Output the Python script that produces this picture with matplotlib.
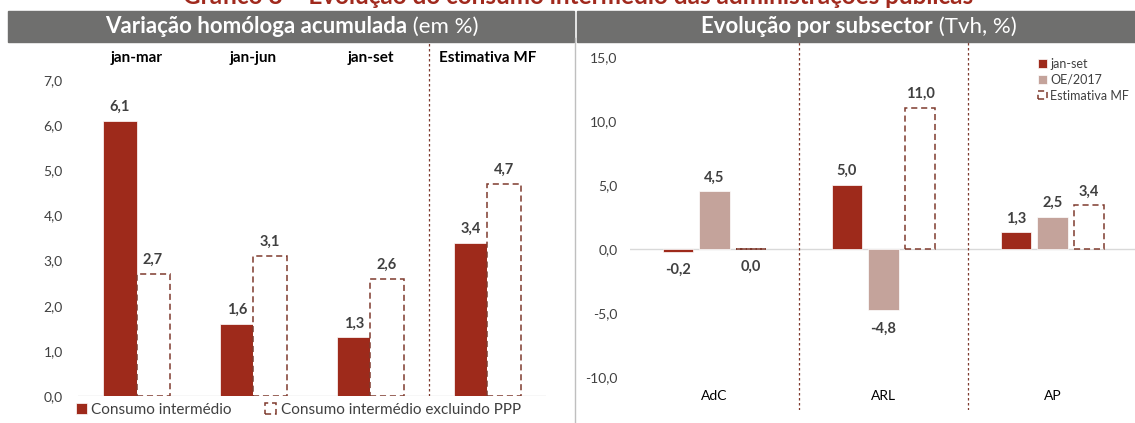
import matplotlib.pyplot as plt
from matplotlib.patches import Rectangle
from matplotlib.lines import Line2D
import numpy as np

plt.rcParams['font.family'] = ['Lato', 'DejaVu Sans']

# left panel data
periods = ['jan-mar', 'jan-jun', 'jan-set', 'Estimativa MF']
consumo = [6.1, 1.6, 1.3, 3.4]
consumo_sem_ppp = [2.7, 3.1, 2.6, 4.7]

# right panel data
subsectores = ['AdC', 'ARL', 'AP']
jan_set = [-0.2, 5.0, 1.3]
oe_2017 = [4.5, -4.8, 2.5]
estimativa_mf = [0.0, 11.0, 3.4]

RED = '#9E2A1B'
PINK = '#C4A39B'
DASH = '#7F3A2E'
HEADER = '#6F6F6E'
TXT = '#404040'

W, H = 1135, 423
fig = plt.figure(figsize=(W / 100, H / 100), dpi=100)


def px_axes(x0, x1, ytop, ybot):
    return fig.add_axes([x0 / W, 1 - ybot / H, (x1 - x0) / W, (ybot - ytop) / H])


def fmt(v):
    return f'{v:.1f}'.replace('.', ',')


def label_bars(ax, bars, vals):
    for b, v in zip(bars, vals):
        x = b.get_x() + b.get_width() / 2
        if v > 0:
            ax.annotate(fmt(v), (x, v), xytext=(0, 5), textcoords='offset points',
                        ha='center', va='bottom', fontsize=10.5, fontweight='bold', color=TXT)
        else:
            ax.annotate(fmt(v), (x, v), xytext=(0, -8), textcoords='offset points',
                        ha='center', va='top', fontsize=10.5, fontweight='bold', color=TXT)


def style(ax):
    for s in ax.spines.values():
        s.set_visible(False)
    ax.tick_params(length=0, labelsize=10, labelcolor=TXT)
    ax.set_xticks([])
    ax.axhline(0, color='#D9D9D9', lw=1, zorder=1)


# ---- left panel ----
ax1 = px_axes(78, 546, 40, 396)
x = np.arange(len(periods))
w = 0.283
b1 = ax1.bar(x - w / 2, consumo, w, color=RED, edgecolor='white', lw=0.5, zorder=2,
             label='Consumo intermédio')
b2 = ax1.bar(x + w / 2, consumo_sem_ppp, w, facecolor='white', edgecolor=DASH, lw=1.1,
             linestyle=(0, (4, 2.5)), zorder=2, label='Consumo intermédio excluindo PPP')
label_bars(ax1, b1, consumo)
label_bars(ax1, b2, consumo_sem_ppp)
ax1.set_xlim(-0.5, 3.5)
ax1.set_ylim(0, 356 / 45.14)
ax1.set_yticks(np.arange(0, 8))
ax1.set_yticklabels([fmt(v) for v in np.arange(0, 8)])
style(ax1)
ax1.tick_params(axis='y', pad=11)
ax1.axvline(2.5, ymin=0, ymax=1, color=DASH, lw=0.9, linestyle=(0, (2, 2)))
for i, p in enumerate(periods):
    ax1.text(i, 338 / 45.14, p, ha='center', va='center', fontsize=11,
             fontweight='bold', color='black')
ax1.legend(loc='center left', bbox_to_anchor=(76 / W, 1 - 410 / H), bbox_transform=fig.transFigure,
           ncol=2, frameon=False, fontsize=11, labelcolor=TXT, handlelength=0.7,
           handleheight=0.7, handletextpad=0.3, columnspacing=2.2, borderaxespad=0, borderpad=0)

# ---- right panel ----
ax2 = px_axes(630, 1135, 42, 410)
x2 = np.arange(len(subsectores))
w2 = 0.178
off = 0.216
c1 = ax2.bar(x2 - off, jan_set, w2, color=RED, edgecolor='white', lw=0.5, zorder=2, label='jan-set')
c2 = ax2.bar(x2, oe_2017, w2, color=PINK, edgecolor='white', lw=0.5, zorder=2, label='OE/2017')
c3 = ax2.bar(x2 + off, estimativa_mf, w2, facecolor='white', edgecolor=DASH, lw=1.1,
             linestyle=(0, (4, 2.5)), zorder=2, label='Estimativa MF')
label_bars(ax2, c1, jan_set)
label_bars(ax2, c2, oe_2017)
label_bars(ax2, c3, estimativa_mf)
ax2.set_xlim(-0.5, -0.5 + 505 / 169)
ax2.set_ylim(-161 / 12.8, 207 / 12.8)
ax2.set_yticks(np.arange(-10, 16, 5))
ax2.set_yticklabels([fmt(v) for v in np.arange(-10, 16, 5)])
style(ax2)
ax2.tick_params(axis='y', pad=9)
for s in [0.5, 1.5]:
    ax2.axvline(s, color=DASH, lw=0.9, linestyle=(0, (2, 2)))
for i, s in enumerate(subsectores):
    ax2.text(i, -147 / 12.8, s, ha='center', va='center', fontsize=10, color='black')
ax2.legend(loc='upper left', bbox_to_anchor=(1038 / W, 1 - 58 / H), bbox_transform=fig.transFigure,
           frameon=False, fontsize=9, labelcolor=TXT, handlelength=0.7, handleheight=0.7,
           handletextpad=0.3, labelspacing=0.3, borderaxespad=0, borderpad=0)

# ---- headers, separators, title ----
fig.patches.append(Rectangle((8 / W, 1 - 42 / H), 566 / W, 31 / H, transform=fig.transFigure,
                             color=HEADER, zorder=0))
fig.patches.append(Rectangle((577 / W, 1 - 42 / H), 558 / W, 31 / H, transform=fig.transFigure,
                             color=HEADER, zorder=0))
fig.lines.append(Line2D([575 / W, 575 / W], [0, 1 - 38 / H], transform=fig.transFigure,
                        color='#BFBFBF', lw=1))

renderer = fig.canvas.get_renderer()


def header(cx, bold, normal):
    y = 1 - 33 / H
    t1 = fig.text(0, y, bold, fontsize=16, fontweight='bold', color='white', va='baseline')
    t2 = fig.text(0, y, ' ' + normal, fontsize=16, color='white', va='baseline')
    w1 = t1.get_window_extent(renderer).width / W
    w2 = t2.get_window_extent(renderer).width / W
    start = cx / W - (w1 + w2) / 2
    t1.set_x(start)
    t2.set_x(start + w1)


header(292, 'Variação homóloga acumulada', '(em %)')
header(859, 'Evolução por subsector', '(Tvh, %)')

# chart title, cut at the top edge as in the source
fig.text(578 / W, 1 - 4 / H, 'Gráfico 8 – Evolução do consumo intermédio das administrações públicas',
         ha='center', va='baseline', fontsize=17.5, fontweight='bold', color='#A0291D')

fig.savefig('out.png', dpi=100)
